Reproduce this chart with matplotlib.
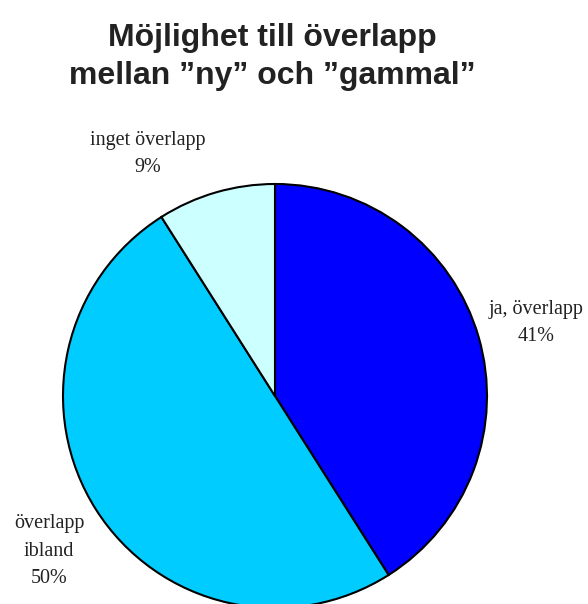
import matplotlib
matplotlib.use("Agg")
import matplotlib.pyplot as plt

# andelar per svar
labels = ["ja, överlapp", "överlapp\nibland", "inget överlapp"]
values = [41, 50, 9]
colors = ["#0000FF", "#00CCFF", "#CCFFFF"]

W, H = 588, 604
fig = plt.figure(figsize=(W / 100, H / 100), dpi=100)

# tårtan: centrum (275, 396) px, radie 212 px
cx, cy, r = 275, 396, 212
ax = fig.add_axes([(cx - r) / W, (H - cy - r) / H, 2 * r / W, 2 * r / H])
wedges, _ = ax.pie(values, colors=colors, startangle=90, counterclock=False,
                   radius=1, wedgeprops=dict(edgecolor="black", linewidth=1.5))
for w in wedges:
    w.set_clip_on(False)
ax.set_xlim(-1, 1)
ax.set_ylim(-1, 1)
ax.set_aspect("equal")
ax.axis("off")

# etiketter, placerade i pixlar runt tårtan
label_pos = [(536, 323), (49, 551), (148, 154)]
for lab, v, (px, py) in zip(labels, values, label_pos):
    ax.text((px - cx) / r, (cy - py) / r, "%s\n%d%%" % (lab, v),
            ha="center", va="center", fontsize=14.5,
            family="Liberation Serif", color="#222222",
            linespacing=1.62, clip_on=False)

fig.text(272 / W, 1 - 57 / H, "Möjlighet till överlapp\nmellan ”ny” och ”gammal”",
         ha="center", va="center", fontsize=23, fontweight="bold",
         family="Liberation Sans", color="#222222", linespacing=1.33)

fig.savefig("out.png", dpi=100)
